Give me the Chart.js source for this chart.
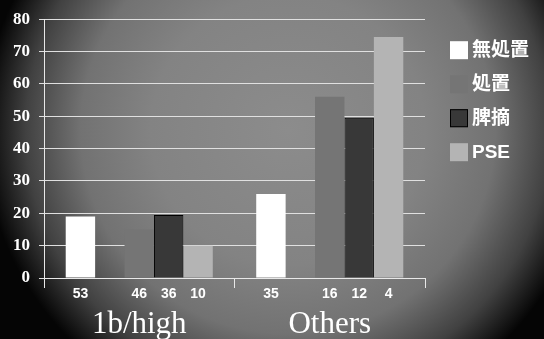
<!DOCTYPE html>
<html>
<head>
<meta charset="utf-8">
<script src="https://cdn.jsdelivr.net/npm/chart.js@4/dist/chart.umd.min.js"></script>
<style>
  html, body { margin: 0; padding: 0; }
  body {
    width: 544px; height: 339px; overflow: hidden;
    background:
      radial-gradient(ellipse 305px 300px at 288px 130px, #8c8c8c 0%, #838383 45%, #727272 68%, #414141 86%, #050505 100%);
    background-color: #000;
  }
  canvas { display: block; }
</style>
</head>
<body>
<canvas id="c" width="544" height="339"></canvas>
<script>
// ---- data ----
const categories = ['1b/high', 'Others'];
const seriesLabels = ['無処置', '処置', '脾摘', 'PSE'];
const noTreatment = [19, 26];
const treatment = [15, 56];
const splenectomy = [19.5, 49.5];
const pse = [10, 74.5];
const nNoTreatment = [53, 35];
const nTreatment = [46, 16];
const nSplenectomy = [36, 12];
const nPse = [10, 4];
const yMin = 0, yMax = 80, yStep = 10;

// ---- styles ----
const colors = ['#ffffff', '#757575', '#383838', '#b4b4b4'];
const borders = ['#ffffff', '#757575', '#000000', '#b4b4b4'];

function ds(label, data, i, counts) {
  return {
    label: label, data: data, counts: counts,
    backgroundColor: colors[i], borderColor: borders[i],
    borderWidth: i === 2 ? 1 : 0, inLegend: true
  };
}

const datasets = [
  ds(seriesLabels[0], noTreatment, 0, nNoTreatment),
  { label: '', data: [null, null], backgroundColor: 'rgba(0,0,0,0)', inLegend: false },
  ds(seriesLabels[1], treatment, 1, nTreatment),
  ds(seriesLabels[2], splenectomy, 2, nSplenectomy),
  ds(seriesLabels[3], pse, 3, nPse)
];

const countsPlugin = {
  id: 'counts',
  afterDatasetsDraw(chart) {
    const ctx = chart.ctx;
    ctx.save();
    ctx.fillStyle = '#ffffff';
    ctx.font = 'bold 14px "Liberation Sans", Arial, sans-serif';
    ctx.textAlign = 'center';
    ctx.textBaseline = 'middle';
    chart.data.datasets.forEach((d, di) => {
      if (!d.counts) return;
      const meta = chart.getDatasetMeta(di);
      meta.data.forEach((bar, i) => {
        ctx.fillText(String(d.counts[i]), bar.x, chart.chartArea.bottom + 16);
      });
    });
    ctx.restore();
  }
};

const legendPlugin = {
  id: 'customLegend',
  afterDraw(chart) {
    const ctx = chart.ctx;
    const items = chart.data.datasets.filter(d => d.inLegend);
    const x0 = chart.chartArea.right + 25;
    const y0 = chart.chartArea.top + 31;
    const step = 34;
    const box = 18;
    ctx.save();
    ctx.font = 'bold 19px "Liberation Sans", "Noto Sans CJK JP", sans-serif';
    ctx.textBaseline = 'middle';
    ctx.textAlign = 'left';
    items.forEach((d, i) => {
      const cy = y0 + i * step;
      ctx.fillStyle = d.backgroundColor;
      ctx.fillRect(x0, cy - box / 2, box, box);
      if (d.borderWidth) {
        ctx.strokeStyle = d.borderColor;
        ctx.lineWidth = 1;
        ctx.strokeRect(x0 + 0.5, cy - box / 2 + 0.5, box - 1, box - 1);
      }
      ctx.fillStyle = '#ffffff';
      ctx.fillText(d.label, x0 + box + 4, cy + 1);
    });
    ctx.restore();
  }
};

new Chart(document.getElementById('c'), {
  type: 'bar',
  data: { labels: categories, datasets: datasets },
  options: {
    responsive: false,
    animation: false,
    layout: { padding: { left: 0, right: 119, top: 17, bottom: 0 } },
    datasets: { bar: { categoryPercentage: 0.772, barPercentage: 1.0 } },
    plugins: { legend: { display: false }, tooltip: { enabled: false } },
    scales: {
      x: {
        afterFit(s) { s.height = 61; },
        grid: { display: true, offset: true, drawOnChartArea: false, drawTicks: true, tickLength: 10, color: '#e8e8e8', lineWidth: 1 },
        border: { display: true, color: '#e8e8e8', width: 1 },
        ticks: {
          color: '#ffffff', padding: 21,
          font: { family: '"Liberation Serif", "DejaVu Serif", serif', size: 31, lineHeight: 1 }
        }
      },
      y: {
        min: yMin, max: yMax,
        afterFit(s) { s.width = 44; },
        grid: { color: '#e0e0e0', lineWidth: 1, tickLength: 5, drawTicks: true },
        border: { display: true, color: '#e8e8e8', width: 1 },
        ticks: {
          stepSize: yStep, color: '#ffffff', padding: 9,
          font: { family: '"Liberation Serif", serif', size: 17, weight: 'bold' }
        }
      }
    }
  },
  plugins: [countsPlugin, legendPlugin]
});
</script>
</body>
</html>
